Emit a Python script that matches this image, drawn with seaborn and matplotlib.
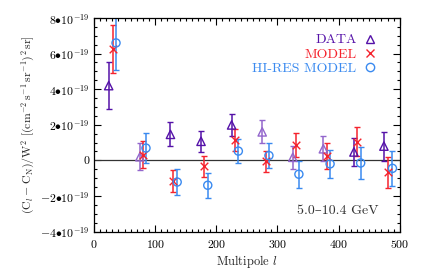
import numpy as np
import matplotlib
matplotlib.use("Agg")
import matplotlib.pyplot as plt
from matplotlib.lines import Line2D
from matplotlib.ticker import MultipleLocator, FixedLocator, FixedFormatter
import seaborn as sns
import pandas as pd

# ---- data (values in units of 1e-19) ----
data_l = [24, 75, 125, 175, 225, 275, 325, 375, 425, 474]
data_v = [4.2, 0.2, 1.46, 1.07, 1.99, 1.6, 0.17, 0.65, 0.47, 0.8]
data_e = [1.3, 0.75, 0.67, 0.6, 0.64, 0.64, 0.65, 0.7, 0.78, 0.82]

model_l = [31, 80, 129, 180, 230, 281, 330, 381, 430, 481]
model_v = [6.25, 0.32, -1.17, -0.34, 1.14, -0.05, 0.87, 0.24, 1.05, -0.67]
model_e = [1.35, 0.74, 0.62, 0.58, 0.6, 0.59, 0.68, 0.72, 0.8, 0.87]

hires_l = [36, 85, 136, 186, 236, 286, 335, 386, 436, 488]
hires_v = [6.6, 0.69, -1.22, -1.4, 0.52, 0.27, -0.78, -0.2, -0.15, -0.45]
hires_e = [1.55, 0.86, 0.72, 0.7, 0.68, 0.72, 0.75, 0.8, 0.9, 0.98]

ytick_vals = [-4, -2, 0, 2, 4, 6, 8]
ytick_labels = [r"$-4{\bullet}10^{-19}$", r"$-2{\bullet}10^{-19}$", "0",
                r"$2{\bullet}10^{-19}$", r"$4{\bullet}10^{-19}$",
                r"$6{\bullet}10^{-19}$", r"$8{\bullet}10^{-19}$"]
series_names = ["DATA", "MODEL", "HI-RES MODEL"]
energy_label = "5.0\u201310.4 GeV"

# ---- style ----
sns.set_theme(style="ticks")
plt.rcParams["font.family"] = ["cmr10", "DejaVu Serif"]
plt.rcParams["mathtext.fontset"] = "cm"
plt.rcParams["axes.unicode_minus"] = False
plt.rcParams["axes.formatter.use_mathtext"] = True

c_data_dark = "#5512a8"
c_data_light = "#9366cc"
data_shades = [c_data_dark, c_data_light, c_data_dark, c_data_dark, c_data_dark,
               c_data_light, c_data_light, c_data_light, c_data_dark, c_data_dark]
c_model = "#f5232d"
c_hires = "#3a8af0"

SCALE = 1e-19
fig = plt.figure(figsize=(4.36, 2.73), dpi=100)
ax = fig.add_axes([0.2156, 0.152, 0.917 - 0.2156, 0.934 - 0.152])

ax.axhline(0, color="#333333", lw=0.9, zorder=1)

# error bars
for l, v, e, c in zip(data_l, data_v, data_e, data_shades):
    ax.errorbar([l], [v * SCALE], yerr=[e * SCALE], fmt="none", ecolor=c,
                elinewidth=1.1, capsize=2.5, capthick=1.0, zorder=2)
ax.errorbar(model_l, np.array(model_v) * SCALE, yerr=np.array(model_e) * SCALE,
            fmt="none", ecolor=c_model, elinewidth=1.1, capsize=2.5, capthick=1.0, zorder=2)
ax.errorbar(hires_l, np.array(hires_v) * SCALE, yerr=np.array(hires_e) * SCALE,
            fmt="none", ecolor=c_hires, elinewidth=1.1, capsize=2.5, capthick=1.0, zorder=2)

df_data = pd.DataFrame({"l": data_l, "v": np.array(data_v) * SCALE})
df_model = pd.DataFrame({"l": model_l, "v": np.array(model_v) * SCALE})
df_hires = pd.DataFrame({"l": hires_l, "v": np.array(hires_v) * SCALE})

sns.scatterplot(data=df_data, x="l", y="v", ax=ax, marker="^", s=36,
                facecolor="none", edgecolor=data_shades, linewidth=1.0, zorder=3)
sns.scatterplot(data=df_model, x="l", y="v", ax=ax, marker="x", s=30,
                color=c_model, linewidth=1.0, zorder=3)
sns.scatterplot(data=df_hires, x="l", y="v", ax=ax, marker="o", s=34,
                facecolor="none", edgecolor=c_hires, linewidth=1.0, zorder=3)

ax.set_xlim(0, 500)
ax.set_ylim(-4 * SCALE, 8 * SCALE)
ax.xaxis.set_major_locator(MultipleLocator(100))
ax.xaxis.set_minor_locator(MultipleLocator(10))
ax.yaxis.set_major_locator(FixedLocator([v * SCALE for v in ytick_vals]))
ax.yaxis.set_major_formatter(FixedFormatter(ytick_labels))
ax.yaxis.set_minor_locator(MultipleLocator(0.5 * SCALE))
ax.tick_params(which="both", direction="in", top=True, right=True, colors="black",
               labelsize=8.5, width=0.8)
ax.tick_params(which="major", length=5)
ax.tick_params(which="minor", length=2.5)
ax.tick_params(axis="x", pad=5)
for sp in ax.spines.values():
    sp.set_linewidth(0.9)
    sp.set_color("black")

ax.set_xlabel(r"Multipole $l$", fontsize=9, labelpad=2)
ax.set_ylabel(r"$(\mathrm{C}_l-\mathrm{C}_\mathrm{N})/\mathrm{W}^2$ $[(\mathrm{cm}^{-2}\,\mathrm{s}^{-1}\,\mathrm{sr}^{-1})^2\,\mathrm{sr}]$",
              fontsize=8.5, labelpad=2)

handles = [
    Line2D([], [], ls="none", marker="^", mfc="none", mec=c_data_dark, mew=1.0, ms=6),
    Line2D([], [], ls="none", marker="x", color=c_model, mew=1.0, ms=5.5),
    Line2D([], [], ls="none", marker="o", mfc="none", mec=c_hires, mew=1.0, ms=6),
]
leg = ax.legend(handles, series_names, loc="upper right", bbox_to_anchor=(0.963, 0.985),
                frameon=False, markerfirst=False, handlelength=0.8, handletextpad=0.6,
                labelspacing=0.12, fontsize=10,
                labelcolor=[c_data_dark, c_model, c_hires])

ax.text(0.931, 0.096, energy_label, transform=ax.transAxes, ha="right", va="center",
        fontsize=10, color="#333333")

fig.savefig("out.png", dpi=100)
